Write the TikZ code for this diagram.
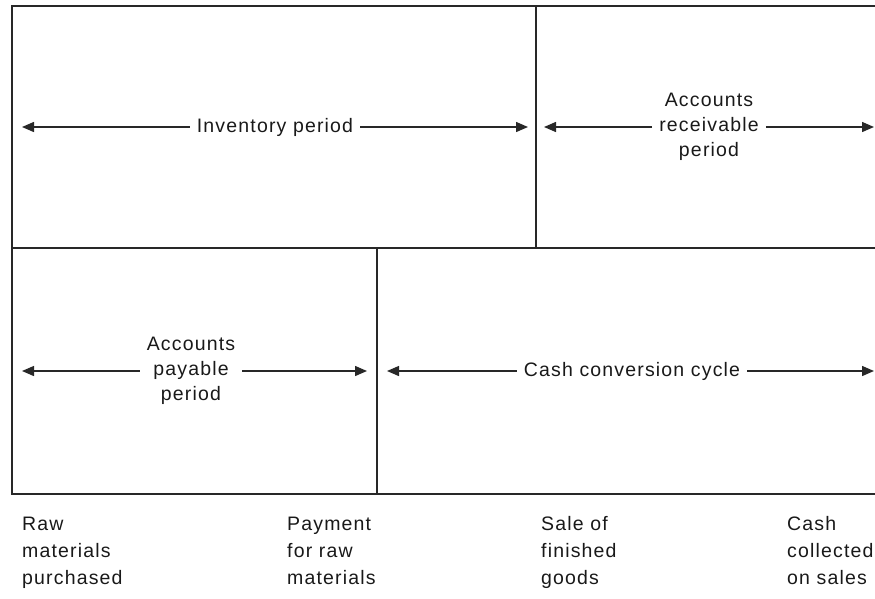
\documentclass[tikz,border=0pt]{standalone}
\usepackage{fontspec}
\setmainfont{Liberation Sans}
\newfontfamily\labfont[LetterSpace=6]{Liberation Sans}
\usetikzlibrary{arrows.meta}
\definecolor{ink}{RGB}{40,40,40}
\definecolor{txt}{RGB}{25,25,25}
\begin{document}
\begin{tikzpicture}[x=1pt,y=-1pt,
  frame/.style={draw=ink,line width=1.5pt},
  arr/.style={draw=ink,line width=1.4pt,-{Triangle[length=12pt,width=10pt]}},
  period/.style={font=\labfont\fontsize{19.5}{25}\selectfont,text=txt,align=center,inner xsep=7pt,inner ysep=0pt},
  event/.style={font=\labfont\fontsize{19.5}{27}\selectfont,text=txt,align=left,anchor=base west,inner sep=0pt}]
\useasboundingbox (0,0) rectangle (875,598);
% frame
\draw[frame] (875,6) -- (12,6) -- (12,494) -- (875,494);
\draw[frame] (12,248) -- (875,248);
\draw[frame] (536,6) -- (536,248);
\draw[frame] (377,248) -- (377,494);
% top row
\coordinate (invL) at (22,127);
\coordinate (invR) at (528,127);
\node[period] (inv) at (275,127) {Inventory period};
\draw[arr] (inv) -- (invL);
\draw[arr] (inv) -- (invR);
\coordinate (arL) at (544,127);
\coordinate (arR) at (874,127);
\node[period] (ar) at (709,127) {Accounts\\receivable\\period};
\draw[arr] (ar) -- (arL);
\draw[arr] (ar) -- (arR);
% bottom row
\coordinate (apL) at (22,371);
\coordinate (apR) at (367,371);
\node[period] (ap) at (191,371) {Accounts\\payable\\period};
\draw[arr] (ap) -- (apL);
\draw[arr] (ap) -- (apR);
\coordinate (ccL) at (387,371);
\coordinate (ccR) at (874,371);
\node[period] (cc) at (632,371) {Cash conversion cycle};
\draw[arr] (cc) -- (ccL);
\draw[arr] (cc) -- (ccR);
% events (anchor = baseline of the last line)
\node[event] (e1) at (22,584) {Raw\\materials\\purchased};
\node[event] (e2) at (287,584) {Payment\\for raw\\materials};
\node[event] (e3) at (541,584) {Sale of\\finished\\goods};
\node[event] (e4) at (787,584) {Cash\\collected\\on sales};
\end{tikzpicture}
\end{document}
